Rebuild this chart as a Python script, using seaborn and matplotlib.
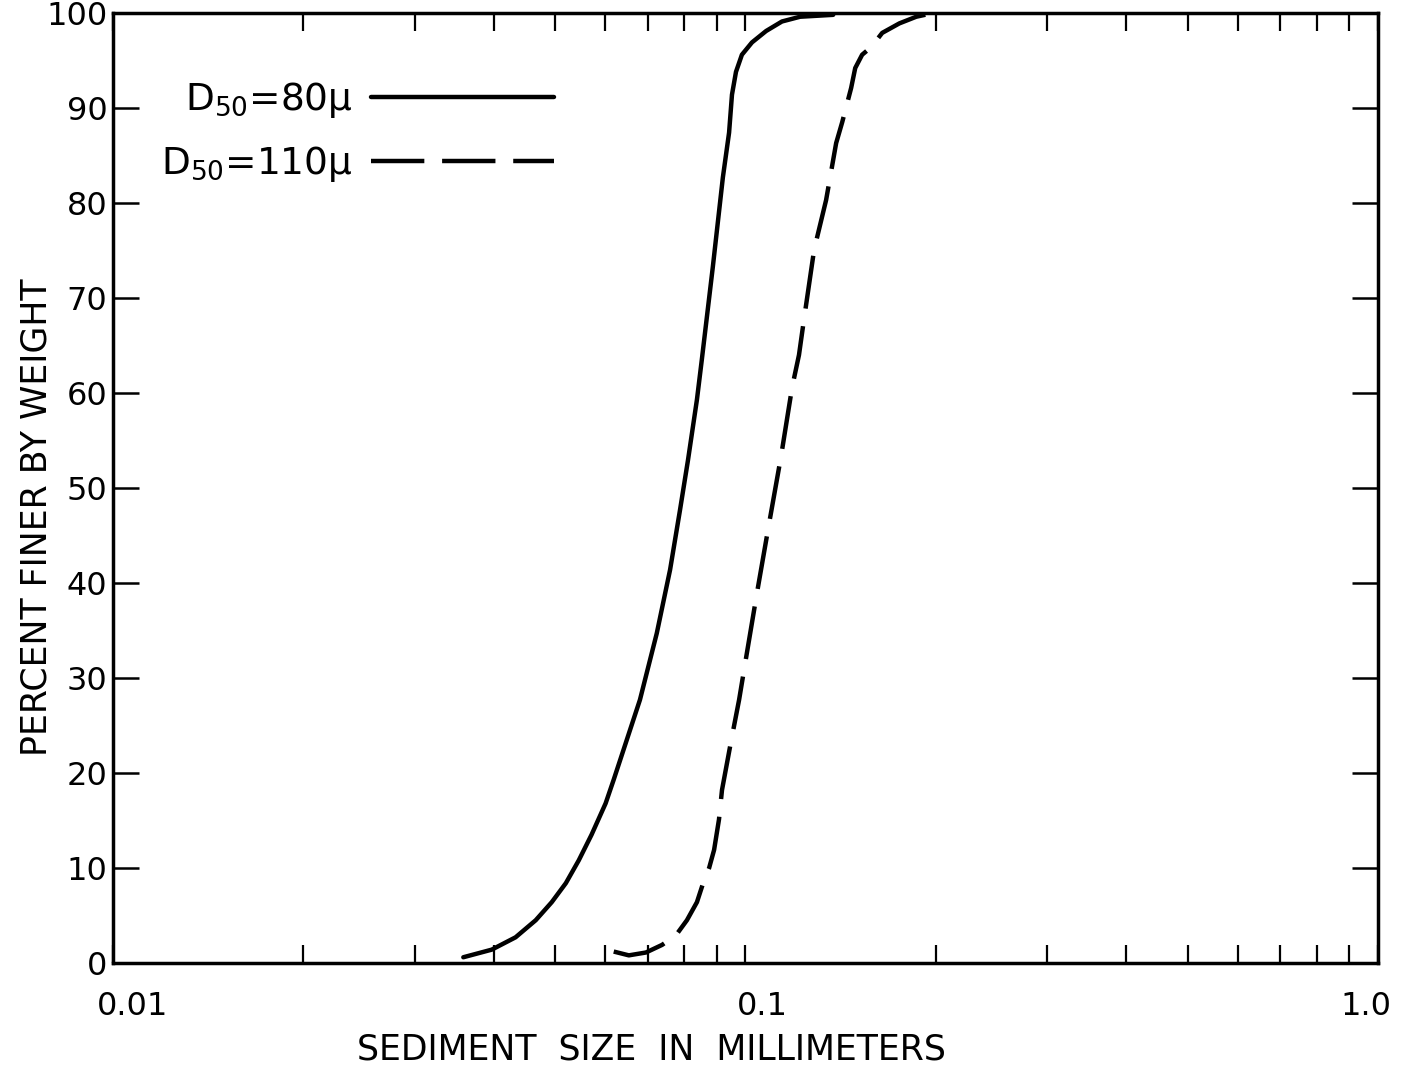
import pandas as pd
import matplotlib
matplotlib.use("Agg")
import matplotlib.pyplot as plt
import seaborn as sns
from matplotlib.transforms import ScaledTranslation

# ------------------------
# Data
# ------------------------
# D50 = 80 micron curve: sediment size (mm) and percent finer
size_80 = [0.0358, 0.0397, 0.0433, 0.0466, 0.0494, 0.0520, 0.0545, 0.0571,
           0.0601, 0.0619, 0.0681, 0.0724, 0.0760, 0.0788, 0.0811, 0.0838,
           0.0853, 0.0888, 0.0921, 0.0942, 0.0952, 0.0966, 0.0987, 0.1024,
           0.1078, 0.1142, 0.1220, 0.1376]
pct_80 = [0.6, 1.4, 2.7, 4.5, 6.4, 8.4, 10.8, 13.5,
          16.8, 19.3, 27.7, 34.7, 41.4, 47.7, 52.9, 59.3,
          63.5, 73.3, 82.7, 87.4, 91.4, 93.8, 95.6, 96.9,
          98.1, 99.1, 99.6, 99.8]

# D50 = 110 micron curve
size_110 = [0.0619, 0.0654, 0.0696, 0.0738, 0.0776, 0.0808, 0.0838, 0.0860,
            0.0876, 0.0892, 0.0908, 0.0918, 0.0948, 0.0977, 0.1002, 0.1043,
            0.1090, 0.1138, 0.1185, 0.1215, 0.1237, 0.1284, 0.1341, 0.1391,
            0.1422, 0.1469, 0.1491, 0.1529, 0.1580, 0.1645, 0.1751, 0.1862,
            0.1953]
pct_110 = [1.2, 0.8, 1.1, 1.9, 2.9, 4.5, 6.4, 8.7,
           10.0, 11.9, 15.1, 18.2, 23.2, 27.7, 32.1, 39.0,
           46.3, 53.3, 60.6, 64.0, 67.7, 75.1, 80.3, 86.3,
           88.5, 92.1, 94.2, 95.6, 96.4, 97.9, 98.9, 99.6,
           99.9]

curve_names = ["D50=80", "D50=110"]
legend_labels = [r"D$_{50}$=80μ", r"D$_{50}$=110μ"]
x_ticks = [0.01, 0.1, 1.0]
x_ticklabels = ["0.01", "0.1", "1.0"]
y_ticks = list(range(0, 101, 10))

df = pd.concat([
    pd.DataFrame({"size": size_80, "pct": pct_80, "curve": curve_names[0]}),
    pd.DataFrame({"size": size_110, "pct": pct_110, "curve": curve_names[1]}),
], ignore_index=True)

# ------------------------
# Style
# ------------------------
sns.set_style("ticks")
plt.rcParams["font.family"] = ["DejaVu Sans"]
plt.rcParams["mathtext.fontset"] = "dejavusans"
plt.rcParams["text.color"] = "black"
plt.rcParams["axes.labelcolor"] = "black"

fig = plt.figure(figsize=(14.05, 10.69), dpi=100)
ax = fig.add_axes([0.0804, 0.0992, 0.9004, 0.8887])

sns.lineplot(data=df, x="size", y="pct", hue="curve", style="curve",
             palette={curve_names[0]: "black", curve_names[1]: "black"},
             dashes={curve_names[0]: "", curve_names[1]: (12, 4)},
             linewidth=3.2, sort=False, estimator=None, legend=False, ax=ax)
for line in ax.lines:
    line.set_solid_capstyle("round")
    line.set_solid_joinstyle("round")

ax.set_xscale("log")
ax.set_xlim(0.01, 1.0)
ax.set_ylim(0, 100)

ax.set_xticks(x_ticks)
ax.set_xticklabels(x_ticklabels)
ax.set_yticks(y_ticks)
ax.set_yticklabels([str(v) for v in y_ticks])

for spine in ax.spines.values():
    spine.set_visible(True)
    spine.set_linewidth(2.5)
    spine.set_color("black")

ax.tick_params(axis="x", which="both", direction="in", top=True, bottom=True,
               length=13, width=1.6, labelsize=23, pad=20, colors="black")
ax.tick_params(axis="y", which="both", direction="in", left=True, right=True,
               length=19, width=1.8, labelsize=23, pad=4, colors="black")
ax.tick_params(axis="y", which="minor", left=False, right=False)

# nudge x tick labels like in the original drawing
for lab, dx in zip(ax.get_xticklabels(), [20, 17, -12]):
    lab.set_transform(lab.get_transform() + ScaledTranslation(dx / 100, 0, fig.dpi_scale_trans))

ax.set_xlabel("SEDIMENT  SIZE  IN  MILLIMETERS", fontsize=25)
ax.set_ylabel("PERCENT FINER BY WEIGHT", fontsize=25)
ax.xaxis.set_label_coords(0.426, -0.073)
ax.yaxis.set_label_coords(-0.047, 0.469)

# legend: text first, line sample to the right
ax.legend(handles=ax.lines[:2], labels=legend_labels, loc="upper left",
          bbox_to_anchor=(0.038, 0.929), frameon=False, markerfirst=False,
          fontsize=27, handlelength=4.88, handletextpad=0.48,
          labelspacing=0.62, borderpad=0, borderaxespad=0)

fig.savefig("out.png", dpi=100, facecolor="white")
